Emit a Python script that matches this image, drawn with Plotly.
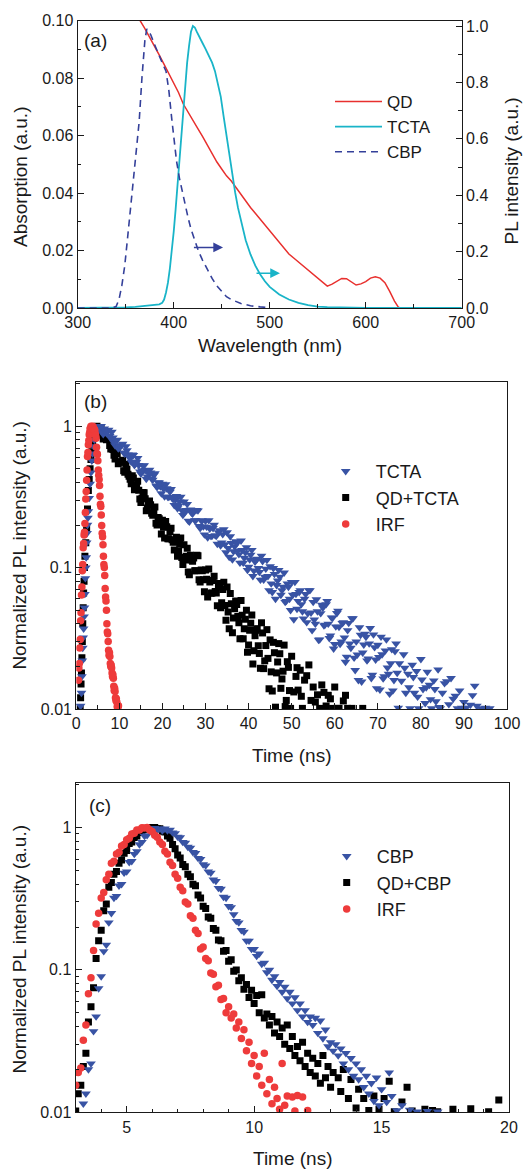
import plotly.graph_objects as go

FONT = "Liberation Sans, Arial, sans-serif"
INK = "#1a1a1a"
RED = "#E8302E"
CYAN = "#19B4C8"
NAVY = "#34409A"
BLUE = "#3853A4"
BLACK = "#000000"
DOTRED = "#EE3B3B"

# ---------------- panel (a): absorption / PL spectra ----------------
A_WL_QD = [360, 365, 370, 375, 380, 385, 390, 395, 400, 405, 410, 415, 420, 425, 430, 435, 440, 445,
           450, 455, 460, 465, 470, 475, 480, 485, 490, 495, 500, 505, 510, 515, 520, 525, 530, 535,
           540, 545, 550, 555, 560, 565, 570, 575, 580, 585, 590, 595, 600, 605, 610, 615, 620, 625,
           630, 634, 636]
A_QD = [0.1035, 0.1000, 0.0972, 0.0943, 0.0912, 0.0880, 0.0848, 0.0815, 0.0785, 0.0750, 0.0710,
        0.0680, 0.0652, 0.0625, 0.0597, 0.0566, 0.0537, 0.0508, 0.0484, 0.0460, 0.0442, 0.0418,
        0.0395, 0.0372, 0.0350, 0.0330, 0.0310, 0.0288, 0.0268, 0.0250, 0.0232, 0.0210, 0.0188,
        0.0174, 0.0160, 0.0148, 0.0132, 0.0118, 0.0105, 0.0093, 0.0076, 0.0083, 0.0092, 0.0103,
        0.0102, 0.0090, 0.0080, 0.0084, 0.0092, 0.0104, 0.0109, 0.0104, 0.0088, 0.0058, 0.0024,
        0.0003, 0.0]

A_WL_TCTA = [300, 320, 340, 350, 360, 370, 380, 385, 388, 390, 392, 394, 396, 398, 400, 402, 404,
             406, 408, 410, 412, 414, 416, 418, 420, 422, 424, 426, 428, 430, 433, 436, 440, 443,
             446, 449, 452, 455, 458, 461, 464, 467, 470, 475, 480, 485, 490, 495, 500, 510, 520,
             530, 540, 550, 560, 580, 600, 700]
A_TCTA = [0.0, 0.0, 0.001, 0.002, 0.004, 0.007, 0.010, 0.013, 0.018, 0.03, 0.055, 0.09, 0.14, 0.2,
          0.27, 0.35, 0.44, 0.53, 0.63, 0.72, 0.8, 0.87, 0.93, 0.98, 1.0, 0.995, 0.98, 0.965, 0.955,
          0.94, 0.92, 0.9, 0.87, 0.84, 0.8, 0.75, 0.68, 0.61, 0.54, 0.47, 0.41, 0.355, 0.31, 0.24,
          0.19, 0.15, 0.12, 0.095, 0.075, 0.048, 0.03, 0.018, 0.01, 0.005, 0.003, 0.001, 0.0, 0.0]

A_WL_CBP = [300, 335, 340, 343, 346, 349, 352, 355, 358, 361, 364, 367, 370, 372, 376, 380, 384,
            388, 392, 395, 398, 400, 403, 406, 409, 412, 415, 418, 422, 426, 430, 435, 440, 445,
            450, 455, 460, 465, 470, 475, 480, 490, 500]
A_CBP = [0.0, 0.0, 0.005, 0.03, 0.08, 0.15, 0.25, 0.35, 0.46, 0.55, 0.66, 0.82, 0.95, 0.99, 0.97,
         0.935, 0.9, 0.87, 0.84, 0.77, 0.67, 0.61, 0.52, 0.46, 0.41, 0.36, 0.32, 0.28, 0.24, 0.2,
         0.17, 0.135, 0.105, 0.078, 0.057, 0.04, 0.03, 0.022, 0.016, 0.012, 0.008, 0.004, 0.001]

# ---------------- panel (b): TCTA decays ----------------
B_T_TCTA = [1.0, 1.2, 1.3, 1.4, 1.5, 1.6, 1.7, 1.8, 1.9, 2.0, 2.1, 2.2, 2.3, 2.4, 2.5, 2.6, 2.7, 2.8,
            3.0, 3.2, 3.4, 3.6, 3.8, 4.0, 4.2, 4.4, 4.6, 4.8, 5.0,
            5.5, 6.0, 6.5, 7.0, 7.5, 8.0, 8.5, 9.0, 9.5, 10.0,
            10.5, 11.0, 11.5, 12.0, 12.5, 13.0, 13.5, 14.0, 14.5, 15.0,
            15.5, 16.0, 16.5, 17.0, 17.5, 18.0, 18.5, 19.0, 19.5, 20.0,
            20.5, 21.0, 21.5, 22.0, 22.5, 23.0, 23.5, 24.0, 24.5, 25.0,
            25.5, 26.0, 26.5, 27.0, 27.5, 28.0, 28.5, 29.0, 29.5, 30.0,
            30.5, 31.0, 31.5, 32.0, 32.5, 33.0, 33.5, 34.0, 34.5, 35.0,
            35.5, 36.0, 36.5, 37.0, 37.5, 38.0, 38.5, 39.0, 39.5, 40.0,
            40.5, 41.0, 41.5, 42.0, 42.5, 43.0, 43.5, 44.0, 44.5, 45.0,
            45.5, 46.0, 46.5, 47.0, 47.5, 48.0, 48.5, 49.0, 49.5, 50.0,
            50.5, 51.0, 51.5, 52.0, 52.5, 53.0, 53.5, 54.0, 54.5, 55.0,
            55.5, 56.0, 56.5, 57.0, 57.5, 58.0, 58.5, 59.0, 59.5, 60.0,
            60.5, 61.0, 61.5, 62.0, 62.5, 63.0, 63.5, 64.0, 64.5, 65.0,
            65.5, 66.0, 66.5, 67.0, 67.5, 68.0, 68.5, 69.0, 69.5, 70.0,
            70.5, 71.0, 71.5, 72.0, 72.5, 73.0, 73.5, 74.0, 74.5, 75.0,
            76.0, 76.5, 77.0, 77.5, 78.0, 78.5, 79.0, 79.5, 80.0, 80.5,
            81.0, 81.5, 82.0, 82.5, 83.0, 83.5, 84.0, 84.5, 85.0, 86.0,
            86.5, 87.0, 88.0, 88.5, 89.0, 90.0, 90.5, 92.5, 93.0, 94.0,
            95.0, 96.0]
B_TCTA = [0.0105, 0.013, 0.017, 0.022, 0.027, 0.032, 0.037, 0.045, 0.052, 0.065, 0.084, 0.1, 0.118,
          0.15, 0.175, 0.2, 0.225, 0.25, 0.31, 0.39, 0.47, 0.57, 0.64, 0.72, 0.8, 0.88, 0.95, 1.0, 0.99,
          0.99, 0.915, 0.96, 0.89, 0.94, 0.82, 0.83, 0.73, 0.80, 0.71,
          0.73, 0.65, 0.72, 0.63, 0.59, 0.63, 0.53, 0.56, 0.53, 0.46,
          0.525, 0.488, 0.44, 0.49, 0.425, 0.45, 0.38, 0.40, 0.375, 0.39,
          0.318, 0.363, 0.315, 0.358, 0.304, 0.30, 0.262, 0.292, 0.254, 0.292,
          0.255, 0.214, 0.257, 0.24, 0.216, 0.255, 0.196, 0.215, 0.195, 0.214,
          0.163, 0.188, 0.167, 0.2, 0.167, 0.177, 0.143, 0.172, 0.146, 0.177,
          0.119, 0.149, 0.13, 0.153, 0.132, 0.108, 0.133, 0.117, 0.139, 0.101,
          0.123, 0.087, 0.11, 0.115, 0.093, 0.121, 0.082, 0.098, 0.087, 0.102,
          0.067, 0.09, 0.075, 0.096, 0.064, 0.073, 0.057, 0.077, 0.06, 0.079,
          0.043, 0.065, 0.058, 0.069, 0.049, 0.06, 0.041, 0.069, 0.048, 0.057,
          0.04, 0.049, 0.031, 0.0545, 0.039, 0.055, 0.04, 0.033, 0.044, 0.0287,
          0.0476, 0.038, 0.03, 0.041, 0.0215, 0.036, 0.029, 0.0437, 0.023, 0.03,
          0.016, 0.0334, 0.025, 0.034, 0.022, 0.029, 0.0165, 0.0336, 0.0223, 0.0284,
          0.0137, 0.0243, 0.017, 0.031, 0.0177, 0.021, 0.0135, 0.0256, 0.018, 0.021,
          0.0243, 0.013, 0.0177, 0.0101, 0.0205, 0.013, 0.0185, 0.0101, 0.0225, 0.0138,
          0.011, 0.0183, 0.0148, 0.0101, 0.0159, 0.0113, 0.019, 0.0101, 0.013, 0.0157,
          0.0108, 0.0165, 0.0124, 0.0101, 0.0135, 0.0112, 0.0102, 0.0146, 0.0105, 0.0101,
          0.0102, 0.0101]
# second set of channels read between the ones above
B_T_TCTA_MID = [5.25, 5.75, 6.25, 6.75, 7.25, 7.75, 8.25, 8.75, 9.25, 9.75,
                10.25, 10.75, 11.25, 11.75, 12.25, 12.75, 13.25, 13.75, 14.25, 14.75,
                15.25, 15.75, 16.25, 16.75, 17.25, 17.75, 18.25, 18.75, 19.25, 19.75,
                20.25, 20.75, 21.25, 21.75, 22.25, 22.75, 23.25, 23.75, 24.25, 24.75,
                25.25, 25.75, 26.25, 26.75, 27.25, 27.75, 28.25, 28.75, 29.25, 29.75,
                30.25, 30.75, 31.25, 31.75, 32.25, 32.75, 33.25, 33.75, 34.25, 34.75,
                35.25, 35.75, 36.25, 36.75, 37.25, 37.75, 38.25, 38.75, 39.25, 39.75,
                40.25, 40.75, 41.25, 41.75, 42.25, 42.75, 43.25, 43.75, 44.25, 44.75,
                45.25, 45.75, 46.25, 46.75, 47.25, 47.75, 48.25, 48.75, 49.25, 49.75,
                50.25, 50.75, 51.25, 51.75, 52.25, 52.75, 53.25, 53.75, 54.25, 54.75,
                55.25, 55.75, 56.25, 56.75, 57.25, 57.75, 58.25, 58.75, 59.25, 59.75,
                60.25, 60.75, 61.25, 61.75, 62.25, 62.75, 63.25, 63.75, 64.25, 64.75,
                65.25, 65.75, 66.25, 66.75, 67.25, 67.75, 68.25, 68.75, 69.25, 69.75,
                70.25, 70.75, 71.25, 71.75, 72.25, 72.75, 73.25, 73.75, 74.25, 74.75,
                75.5, 76.25, 77.25, 78.25, 79.25, 80.25, 81.25, 82.25, 83.25, 84.25,
                85.5, 87.5, 89.5, 91.5, 92.0]
B_TCTA_MID = [0.96, 1.0, 0.875, 0.929, 0.93, 0.85, 0.91, 0.766, 0.796, 0.694,
              0.72, 0.75, 0.639, 0.675, 0.614, 0.56, 0.624, 0.542, 0.595, 0.477,
              0.486, 0.527, 0.423, 0.465, 0.469, 0.417, 0.463, 0.37, 0.398, 0.334,
              0.361, 0.387, 0.315, 0.343, 0.311, 0.276, 0.32, 0.273, 0.316, 0.235,
              0.247, 0.281, 0.211, 0.244, 0.25, 0.216, 0.253, 0.19, 0.215, 0.171,
              0.194, 0.216, 0.167, 0.19, 0.169, 0.147, 0.183, 0.15, 0.186, 0.128,
              0.137, 0.166, 0.114, 0.141, 0.148, 0.124, 0.155, 0.108, 0.128, 0.096,
              0.114, 0.133, 0.095, 0.114, 0.099, 0.082, 0.111, 0.086, 0.113, 0.069,
              0.077, 0.099, 0.06, 0.081, 0.086, 0.069, 0.092, 0.058, 0.073, 0.05,
              0.064, 0.079, 0.051, 0.067, 0.055, 0.0436, 0.065, 0.0475, 0.069, 0.036,
              0.0428, 0.0595, 0.0308, 0.0475, 0.052, 0.0394, 0.0578, 0.0317, 0.0443, 0.0267,
              0.0383, 0.0495, 0.0288, 0.0404, 0.032, 0.0234, 0.0405, 0.027, 0.0438, 0.0188,
              0.0242, 0.0377, 0.0156, 0.0285, 0.0323, 0.0227, 0.0373, 0.0174, 0.0273, 0.014,
              0.0233, 0.0324, 0.0164, 0.0259, 0.0196, 0.0128, 0.0264, 0.016, 0.029, 0.0102,
              0.0158, 0.0195, 0.0142, 0.0168, 0.0122, 0.0161, 0.0142, 0.0117, 0.0138, 0.0103,
              0.0152, 0.0118, 0.0102, 0.0107, 0.0125]

B_T_QDTCTA = [0.9, 1.0, 1.1, 1.2, 1.3, 1.4, 1.5, 1.6, 1.7, 1.8, 1.9, 2.0, 2.2, 2.4, 2.6, 2.8, 3.0,
              3.2, 3.4, 3.6, 3.8, 4.0, 4.2, 4.4, 4.6, 4.8, 5.0,
              5.5, 6.0, 6.5, 7.0, 7.5, 8.0, 8.5, 9.0, 9.5, 10.0,
              10.5, 11.0, 11.5, 12.0, 12.5, 13.0, 13.5, 14.0, 14.5, 15.0,
              15.5, 16.0, 16.5, 17.0, 17.5, 18.0, 18.5, 19.0, 19.5, 20.0,
              20.5, 21.0, 21.5, 22.0, 22.5, 23.0, 23.5, 24.0, 24.5, 25.0,
              25.5, 26.0, 26.5, 27.0, 27.5, 28.0, 28.5, 29.0, 29.5, 30.0,
              30.5, 31.0, 31.5, 32.0, 32.5, 33.0, 33.5, 34.0, 34.5, 35.0,
              35.5, 36.0, 36.5, 37.0, 37.5, 38.0, 38.5, 39.0, 39.5, 40.0,
              40.5, 41.0, 41.5, 42.0, 42.5, 43.0, 43.5, 44.0, 44.5, 45.0,
              45.5, 46.0, 46.5, 47.0, 47.5, 48.0, 48.5, 49.0, 49.5, 50.0,
              51.0, 51.5, 52.0, 52.5, 53.0, 54.0, 54.5, 55.0, 56.0, 56.5,
              57.0, 58.0, 58.5, 59.5, 60.0, 61.0, 62.0, 63.0, 64.0, 66.5]
B_QDTCTA = [0.0102, 0.012, 0.015, 0.018, 0.023, 0.03, 0.04, 0.052, 0.066, 0.08, 0.1, 0.12, 0.15,
            0.19, 0.26, 0.35, 0.42, 0.5, 0.58, 0.66, 0.74, 0.82, 0.89, 0.95, 0.99, 1.0, 0.98,
            0.97, 0.86, 0.89, 0.80, 0.82, 0.69, 0.685, 0.585, 0.64, 0.555,
            0.56, 0.484, 0.538, 0.457, 0.421, 0.446, 0.355, 0.38, 0.352, 0.288,
            0.34, 0.307, 0.264, 0.296, 0.242, 0.25, 0.206, 0.226, 0.202, 0.216,
            0.162, 0.194, 0.16, 0.19, 0.151, 0.152, 0.12, 0.146, 0.118, 0.145,
            0.12, 0.093, 0.122, 0.111, 0.095, 0.122, 0.082, 0.096, 0.082, 0.096,
            0.062, 0.079, 0.066, 0.087, 0.066, 0.073, 0.052, 0.07, 0.054, 0.073,
            0.037, 0.0555, 0.044, 0.058, 0.045, 0.0314, 0.046, 0.037, 0.05, 0.0284,
            0.0404, 0.0208, 0.033, 0.037, 0.0247, 0.0407, 0.0193, 0.0281, 0.0228, 0.0308,
            0.0134, 0.025, 0.018, 0.029, 0.014, 0.0185, 0.0104, 0.0216, 0.0135, 0.0236,
            0.017, 0.0136, 0.0188, 0.0101, 0.016, 0.0205, 0.0115, 0.0143, 0.0126, 0.0101,
            0.0148, 0.0105, 0.0125, 0.0101, 0.0143, 0.0101, 0.0114, 0.0101, 0.0101, 0.0101]
B_T_QDTCTA_MID = [5.25, 5.75, 6.25, 6.75, 7.25, 7.75, 8.25, 8.75, 9.25, 9.75,
                  10.25, 10.75, 11.25, 11.75, 12.25, 12.75, 13.25, 13.75, 14.25, 14.75,
                  15.25, 15.75, 16.25, 16.75, 17.25, 17.75, 18.25, 18.75, 19.25, 19.75,
                  20.25, 20.75, 21.25, 21.75, 22.25, 22.75, 23.25, 23.75, 24.25, 24.75,
                  25.25, 25.75, 26.25, 26.75, 27.25, 27.75, 28.25, 28.75, 29.25, 29.75,
                  30.25, 30.75, 31.25, 31.75, 32.25, 32.75, 33.25, 33.75, 34.25, 34.75,
                  35.25, 35.75, 36.25, 36.75, 37.25, 37.75, 38.25, 38.75, 39.25, 39.75,
                  40.25, 40.75, 41.25, 41.75, 42.25, 42.75, 43.25, 43.75, 44.25, 44.75,
                  45.25, 45.75, 46.25, 46.75, 47.25, 47.75, 48.25, 48.75, 49.25, 49.75,
                  50.5, 51.25, 52.25, 53.5, 55.5, 57.5, 59.0, 60.5, 62.5]
B_QDTCTA_MID = [0.95, 0.98, 0.81, 0.844, 0.823, 0.729, 0.767, 0.622, 0.642, 0.542,
                0.558, 0.575, 0.473, 0.495, 0.443, 0.391, 0.43, 0.365, 0.407, 0.306,
                0.309, 0.338, 0.252, 0.28, 0.278, 0.234, 0.268, 0.2, 0.221, 0.173,
                0.193, 0.212, 0.16, 0.18, 0.157, 0.133, 0.164, 0.131, 0.162, 0.105,
                0.113, 0.137, 0.089, 0.113, 0.117, 0.095, 0.121, 0.079, 0.095, 0.0675,
                0.0826, 0.0976, 0.0657, 0.081, 0.0677, 0.0538, 0.077, 0.0563, 0.0786, 0.0425,
                0.0486, 0.0656, 0.0346, 0.0512, 0.0549, 0.0408, 0.0584, 0.0314, 0.0431, 0.0252,
                0.036, 0.0462, 0.0258, 0.036, 0.028, 0.0194, 0.0345, 0.0219, 0.0364, 0.0139,
                0.0183, 0.0296, 0.0103, 0.0215, 0.0246, 0.0163, 0.0283, 0.0115, 0.0197, 0.0101,
                0.0132, 0.0196, 0.0123, 0.0172, 0.0112, 0.0131, 0.0118, 0.0101, 0.0125]

B_T_IRF = [0.5, 0.6, 0.7, 0.8, 0.9, 1.0, 1.1, 1.2, 1.3, 1.4, 1.5, 1.6, 1.7, 1.8, 1.9, 2.0, 2.1, 2.2,
           2.3, 2.4, 2.5, 2.6, 2.7, 2.8, 2.9, 3.0, 3.1, 3.2, 3.3, 3.4,
           3.6, 3.8, 4.0, 4.2, 4.4, 4.6, 4.8, 5.0, 5.2, 5.4, 5.6, 5.8, 6.0, 6.2, 6.4, 6.6, 6.8, 7.0,
           7.2, 7.4, 7.6, 7.8, 8.0, 8.2, 8.4, 8.6, 8.8, 9.0, 9.2, 9.4, 9.6, 9.8,
           3.7, 3.9, 4.1, 4.3, 4.5, 4.7, 4.9, 5.1, 5.3, 5.5, 5.7, 5.9, 6.1, 6.3, 6.5, 6.7, 6.9,
           7.1, 7.3, 7.5, 7.7, 7.9, 8.1, 8.3, 8.5, 8.7, 8.9, 9.1, 9.3, 9.5, 9.7]
B_IRF = [0.016, 0.0195, 0.021, 0.027, 0.031, 0.042, 0.048, 0.064, 0.073, 0.095, 0.105, 0.138, 0.148,
         0.17, 0.178, 0.205, 0.245, 0.305, 0.345, 0.415, 0.49, 0.61, 0.65, 0.74, 0.79, 0.87, 0.9,
         0.96, 0.97, 1.0,
         0.99, 1.0, 0.96, 0.95, 0.88, 0.82, 0.64, 0.57, 0.45, 0.38, 0.28, 0.235, 0.175, 0.145, 0.105,
         0.088, 0.062, 0.05, 0.035, 0.03, 0.024, 0.0235, 0.02, 0.0195, 0.017, 0.0165, 0.0135, 0.0133,
         0.0115, 0.0112, 0.0102, 0.0105,
         0.98, 0.99, 0.94, 0.93, 0.86, 0.71, 0.63, 0.49, 0.42, 0.32, 0.27, 0.198, 0.165, 0.12, 0.1,
         0.071, 0.058, 0.04, 0.034, 0.026, 0.025, 0.021, 0.0205, 0.018, 0.0175, 0.0145, 0.014, 0.012,
         0.0118, 0.0104, 0.0106]

# ---------------- panel (c): CBP decays ----------------
C_T_CBP = [3.3, 3.4, 3.5, 3.6, 3.7, 3.8, 3.9,
           4.0, 4.1, 4.2, 4.3, 4.4, 4.5, 4.6, 4.7, 4.8, 4.9,
           5.0, 5.1, 5.2, 5.3, 5.4, 5.5, 5.6, 5.7, 5.8, 5.9,
           6.0, 6.1, 6.2, 6.3, 6.4, 6.5, 6.6, 6.7, 6.8, 6.9,
           7.0, 7.1, 7.2, 7.3, 7.4, 7.5, 7.6, 7.7, 7.8, 7.9,
           8.0, 8.1, 8.2, 8.3, 8.4, 8.5, 8.6, 8.7, 8.8, 8.9,
           9.0, 9.1, 9.2, 9.3, 9.4, 9.5, 9.6, 9.7, 9.8, 9.9,
           10.0, 10.1, 10.2, 10.3, 10.4, 10.5, 10.6, 10.7, 10.8, 10.9,
           11.0, 11.1, 11.2, 11.3, 11.4, 11.5, 11.6, 11.7, 11.8, 11.9,
           12.0, 12.1, 12.2, 12.3, 12.4, 12.5, 12.6, 12.7, 12.8, 12.9,
           13.0, 13.1, 13.2, 13.3, 13.4, 13.5, 13.6, 13.7, 13.8, 13.9,
           14.0, 14.1, 14.2, 14.3, 14.4, 14.5, 14.6, 14.7, 14.8, 14.9,
           15.0, 15.2, 15.3, 15.4, 15.6, 15.8, 16.1, 16.4, 16.8, 17.2]
C_CBP = [0.0115, 0.0135, 0.02, 0.022, 0.037, 0.047, 0.074,
         0.09, 0.135, 0.15, 0.215, 0.25, 0.32, 0.33, 0.39, 0.40, 0.48,
         0.49, 0.57, 0.58, 0.65, 0.68, 0.76, 0.79, 0.87, 0.88, 0.95,
         0.95, 0.99, 0.96, 0.98, 0.95, 0.98, 0.95, 0.96, 0.92, 0.91,
         0.86, 0.85, 0.79, 0.78, 0.73, 0.72, 0.67, 0.66, 0.61, 0.6,
         0.55, 0.54, 0.49, 0.48, 0.43, 0.42, 0.375, 0.37, 0.325, 0.32,
         0.28, 0.275, 0.245, 0.22, 0.215, 0.19, 0.185, 0.16, 0.16, 0.14,
         0.14, 0.125, 0.13, 0.11, 0.112, 0.096, 0.1, 0.085, 0.09, 0.077,
         0.082, 0.07, 0.076, 0.063, 0.07, 0.058, 0.064, 0.052, 0.058, 0.047,
         0.052, 0.043, 0.047, 0.041, 0.046, 0.036, 0.044, 0.033, 0.038, 0.029,
         0.031, 0.027, 0.03, 0.025, 0.028, 0.022, 0.026, 0.02, 0.024, 0.018,
         0.022, 0.017, 0.02, 0.015, 0.018, 0.0135, 0.016, 0.012, 0.0175, 0.0112,
         0.0145, 0.0118, 0.019, 0.013, 0.0103, 0.0112, 0.0104, 0.0101, 0.0102, 0.0101]

C_T_QDCBP = [3.0, 3.1, 3.2, 3.3, 3.4, 3.5, 3.6, 3.7, 3.8, 3.9,
             4.0, 4.1, 4.2, 4.3, 4.4, 4.5, 4.6, 4.7, 4.8, 4.9,
             5.0, 5.1, 5.2, 5.3, 5.4, 5.5, 5.6, 5.7, 5.8, 5.9,
             6.0, 6.1, 6.2, 6.3, 6.4, 6.5, 6.6, 6.7, 6.8, 6.9,
             7.0, 7.1, 7.2, 7.3, 7.4, 7.5, 7.6, 7.7, 7.8, 7.9,
             8.0, 8.1, 8.2, 8.3, 8.4, 8.5, 8.6, 8.7, 8.8, 8.9,
             9.0, 9.1, 9.2, 9.3, 9.4, 9.5, 9.6, 9.7, 9.8, 9.9,
             10.0, 10.1, 10.2, 10.3, 10.4, 10.5, 10.6, 10.7, 10.8, 10.9,
             11.0, 11.1, 11.2, 11.3, 11.4, 11.5, 11.6, 11.7, 11.8, 11.9,
             12.0, 12.1, 12.2, 12.3, 12.4, 12.5, 12.6, 12.7, 12.8, 12.9,
             13.0, 13.1,
             13.3, 13.4, 13.5, 13.7, 13.8, 14.0, 14.1, 14.3, 14.5, 14.7,
             14.9, 15.1, 15.3, 15.5, 15.8, 16.0, 16.2, 16.7, 17.0, 17.2,
             17.8, 18.5, 19.2, 19.6]
C_QDCBP = [0.0102, 0.0135, 0.0155, 0.021, 0.026, 0.043, 0.055, 0.075, 0.12, 0.16,
           0.19, 0.26, 0.29, 0.38, 0.41, 0.47, 0.49, 0.56, 0.59, 0.66,
           0.69, 0.77, 0.79, 0.85, 0.87, 0.92, 0.93, 0.97, 0.97, 1.0,
           0.99, 1.0, 0.98, 0.98, 0.94, 0.93, 0.87, 0.84, 0.76, 0.71,
           0.64, 0.61, 0.55, 0.53, 0.47, 0.45, 0.40, 0.39, 0.335, 0.32,
           0.28, 0.27, 0.235, 0.23, 0.195, 0.19, 0.162, 0.16, 0.135, 0.137,
           0.115, 0.118, 0.098, 0.1, 0.084, 0.088, 0.073, 0.079, 0.064, 0.072,
           0.058, 0.066, 0.05, 0.067, 0.046, 0.049, 0.041, 0.047, 0.036, 0.043,
           0.034, 0.039, 0.03, 0.041, 0.028, 0.034, 0.025, 0.029, 0.023, 0.031,
           0.021, 0.026, 0.019, 0.024, 0.018, 0.022, 0.016, 0.025, 0.0175, 0.021,
           0.015, 0.019,
           0.0175, 0.014, 0.02, 0.0125, 0.017, 0.0107, 0.0145, 0.0125, 0.0103, 0.013,
           0.0105, 0.0125, 0.0165, 0.0101, 0.0118, 0.015, 0.0102, 0.0105, 0.0103, 0.0101,
           0.0105, 0.0106, 0.0101, 0.0122]

C_T_IRF = [3.0, 3.1, 3.2, 3.3, 3.4, 3.5, 3.6, 3.7, 3.8, 3.9,
           4.0, 4.1, 4.2, 4.3, 4.4, 4.5, 4.6, 4.7, 4.8, 4.9,
           5.0, 5.1, 5.2, 5.3, 5.4, 5.5, 5.6, 5.7, 5.8, 5.9,
           6.0, 6.1, 6.2, 6.3, 6.4, 6.5, 6.6, 6.7, 6.8, 6.9,
           7.0, 7.1, 7.2, 7.3, 7.4, 7.5, 7.6, 7.7, 7.8, 7.9,
           8.0, 8.1, 8.2, 8.3, 8.4, 8.5, 8.6, 8.7, 8.8, 8.9,
           9.0, 9.1, 9.2, 9.3, 9.4, 9.5, 9.6, 9.7, 9.8, 9.9,
           10.0, 10.1, 10.2, 10.3,
           10.4, 10.5, 10.6, 10.7, 10.8, 10.9, 11.0, 11.1, 11.2, 11.3, 11.5, 11.6, 11.7, 11.9, 12.1]
C_IRF = [0.0155, 0.019, 0.0205, 0.032, 0.041, 0.068, 0.088, 0.137, 0.21, 0.25,
         0.32, 0.35, 0.43, 0.47, 0.56, 0.58, 0.65, 0.67, 0.74, 0.76,
         0.82, 0.84, 0.9, 0.91, 0.96, 0.96, 0.995, 0.99, 1.0, 0.96,
         0.935, 0.88, 0.855, 0.79, 0.76, 0.68, 0.65, 0.57, 0.54, 0.47,
         0.44, 0.38, 0.36, 0.30, 0.29, 0.24, 0.23, 0.19, 0.18, 0.14,
         0.145, 0.12, 0.116, 0.095, 0.093, 0.076, 0.078, 0.062, 0.063, 0.05,
         0.055, 0.046, 0.049, 0.039, 0.043, 0.033, 0.038, 0.027, 0.031, 0.022,
         0.025, 0.018, 0.021, 0.0155,
         0.026, 0.0135, 0.017, 0.0115, 0.015, 0.0125, 0.0105, 0.022, 0.0112, 0.013, 0.0128, 0.0102,
         0.0131, 0.0128, 0.0103]

LOG_TICKS = [0.01, 0.1, 1]
LOG_TICKTEXT = ["0.01", "0.1", "1"]
LOG_MINOR = [0.02, 0.03, 0.04, 0.05, 0.06, 0.07, 0.08, 0.09,
             0.2, 0.3, 0.4, 0.5, 0.6, 0.7, 0.8, 0.9, 2]

# the page body adds an 8 px offset; size the figure so it ends at the window edge
OFF = 8
W, H = 531 - OFF, 1171 - OFF


def fx(p):
    return (p - OFF) / W


def fy(p):
    return 1 - (p - OFF) / H


fig = go.Figure()

# (a)
fig.add_trace(go.Scatter(x=A_WL_QD, y=A_QD, mode="lines", name="QD",
                         line=dict(color=RED, width=1.5), xaxis="x", yaxis="y", legend="legend"))
fig.add_trace(go.Scatter(x=A_WL_TCTA, y=A_TCTA, mode="lines", name="TCTA",
                         line=dict(color=CYAN, width=1.8), xaxis="x", yaxis="y2", legend="legend"))
fig.add_trace(go.Scatter(x=A_WL_CBP, y=A_CBP, mode="lines", name="CBP",
                         line=dict(color=NAVY, width=1.6, dash="7px,5px"), xaxis="x", yaxis="y2",
                         legend="legend"))

# (b)
fig.add_trace(go.Scatter(x=B_T_QDTCTA + B_T_QDTCTA_MID, y=B_QDTCTA + B_QDTCTA_MID, mode="markers",
                         name="QD+TCTA", legendrank=2,
                         marker=dict(symbol="square", size=7, color=BLACK, line=dict(width=0)),
                         xaxis="x2", yaxis="y3", legend="legend2"))
fig.add_trace(go.Scatter(x=B_T_TCTA + B_T_TCTA_MID, y=B_TCTA + B_TCTA_MID, mode="markers",
                         name="TCTA", legendrank=1,
                         marker=dict(symbol="triangle-down", size=8.5, color=BLUE, line=dict(width=0)),
                         xaxis="x2", yaxis="y3", legend="legend2"))
fig.add_trace(go.Scatter(x=B_T_IRF, y=B_IRF, mode="markers", name="IRF", legendrank=3,
                         marker=dict(symbol="circle", size=7.5, color=DOTRED, line=dict(width=0)),
                         xaxis="x2", yaxis="y3", legend="legend2"))

# (c)
fig.add_trace(go.Scatter(x=C_T_QDCBP, y=C_QDCBP, mode="markers", name="QD+CBP", legendrank=2,
                         marker=dict(symbol="square", size=7, color=BLACK, line=dict(width=0)),
                         xaxis="x3", yaxis="y4", legend="legend3"))
fig.add_trace(go.Scatter(x=C_T_CBP, y=C_CBP, mode="markers", name="CBP", legendrank=1,
                         marker=dict(symbol="triangle-down", size=8.5, color=BLUE, line=dict(width=0)),
                         xaxis="x3", yaxis="y4", legend="legend3"))
fig.add_trace(go.Scatter(x=C_T_IRF, y=C_IRF, mode="markers", name="IRF", legendrank=3,
                         marker=dict(symbol="circle", size=7.5, color=DOTRED, line=dict(width=0)),
                         xaxis="x3", yaxis="y4", legend="legend3"))

tickfont = dict(family=FONT, size=16, color=INK)
common = dict(showline=True, linecolor=INK, linewidth=1.3, mirror=True, ticks="inside",
              ticklen=6, tickwidth=1.2, tickcolor=INK, showgrid=False, zeroline=False,
              tickfont=tickfont, automargin=False)
minor_style = dict(ticks="inside", ticklen=3.5, tickwidth=1, tickcolor=INK, showgrid=False)

layout_axes = dict(
    xaxis=dict(domain=[fx(77.7), fx(461.7)], range=[300, 700], dtick=100, anchor="y",
               minor=dict(dtick=50, **minor_style), **common),
    yaxis=dict(domain=[fy(308), fy(20.7)], range=[0, 0.1], dtick=0.02, tickformat=".2f",
               anchor="x", minor=dict(dtick=0.01, **minor_style), **common),
    yaxis2=dict(overlaying="y", side="right", range=[0, 1.019], dtick=0.2, tickformat=".1f",
                anchor="x", minor=dict(dtick=0.1, **minor_style),
                **{k: v for k, v in common.items() if k != "mirror"}),
    xaxis2=dict(domain=[fx(76.3), fx(507)], range=[0, 100], dtick=10, anchor="y3",
                minor=dict(dtick=5, **minor_style), **common),
    yaxis3=dict(domain=[fy(709), fy(382.3)], type="log", range=[-2, 0.31], anchor="x2",
                tickmode="array", tickvals=LOG_TICKS, ticktext=LOG_TICKTEXT,
                minor=dict(tickmode="array", tickvals=LOG_MINOR, **minor_style), **common),
    xaxis3=dict(domain=[fx(75.7), fx(509)], range=[3, 20], tickmode="array",
                tickvals=[5, 10, 15, 20], anchor="y4",
                minor=dict(tick0=0, dtick=1, **minor_style), **common),
    yaxis4=dict(domain=[fy(1112.3), fy(783.3)], type="log", range=[-2, 0.31], anchor="x3",
                tickmode="array", tickvals=LOG_TICKS, ticktext=LOG_TICKTEXT,
                minor=dict(tickmode="array", tickvals=LOG_MINOR, **minor_style), **common),
)


def label(text, x, y, angle=0, size=19):
    return dict(text=text, x=fx(x), y=fy(y), xref="paper", yref="paper", showarrow=False,
                xanchor="center", yanchor="middle", textangle=angle,
                font=dict(family=FONT, size=size, color=INK))


annotations = [
    label("(a)", 95, 40), label("(b)", 95, 401.7), label("(c)", 100, 805),
    label("Wavelength (nm)", 269.5, 345),
    label("Absorption (a.u.)", 20, 177, -90),
    label("PL intensity (a.u.)", 511.5, 171, -90),
    label("Normalized PL intensity (a.u.)", 20, 545.6, -90),
    label("Time (ns)", 292, 755),
    label("Normalized PL intensity (a.u.)", 18.5, 949, -90),
    label("Time (ns)", 293, 1158),
    dict(x=451.4, y=0.0211, ax=419.5, ay=0.0211, xref="x", yref="y", axref="x", ayref="y",
         showarrow=True, arrowhead=2, arrowsize=1.3, arrowwidth=1.5, arrowcolor=NAVY, text=""),
    dict(x=510.7, y=0.0121, ax=484.7, ay=0.0121, xref="x", yref="y", axref="x", ayref="y",
         showarrow=True, arrowhead=2, arrowsize=1.3, arrowwidth=1.5, arrowcolor=CYAN, text=""),
]

fig.update_layout(
    width=W, height=H, autosize=False,
    margin=dict(l=0, r=0, t=0, b=0, pad=0, autoexpand=False),
    paper_bgcolor="white", plot_bgcolor="white",
    font=dict(family=FONT, color=INK),
    annotations=annotations,
    legend=dict(x=fx(330), y=fy(84), xanchor="left", yanchor="top",
                font=dict(family=FONT, size=17, color=INK),
                itemwidth=47, bgcolor="rgba(0,0,0,0)", traceorder="normal"),
    legend2=dict(x=fx(315.7), y=fy(453), xanchor="left", yanchor="top",
                 font=dict(family=FONT, size=18, color=INK),
                 itemwidth=50, bgcolor="rgba(0,0,0,0)", traceorder="normal"),
    legend3=dict(x=fx(316.7), y=fy(838), xanchor="left", yanchor="top",
                 font=dict(family=FONT, size=18, color=INK),
                 itemwidth=50, bgcolor="rgba(0,0,0,0)", traceorder="normal"),
    **layout_axes,
)

fig.write_html("out.html")
